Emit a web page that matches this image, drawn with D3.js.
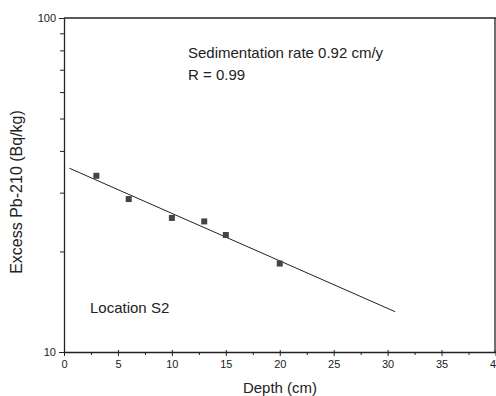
<!DOCTYPE html>
<html><head><meta charset="utf-8">
<script src="https://cdn.jsdelivr.net/npm/d3@7"></script>
<style>body{margin:0;background:#fff;}svg{display:block;font-family:"Liberation Sans",Arial,sans-serif;}</style>
</head><body>
<script>
const depth = [3, 6, 10, 13, 15, 20];
const excessPb = [33.7, 28.7, 25.2, 24.6, 22.4, 18.4];
const fitDepth = [0.5, 30.7];
const fitPb = [35.5, 13.2];
const xMajorTicks = [0, 5, 10, 15, 20, 25, 30, 35, 40];
const xMinorTicks = [2.5, 7.5, 12.5, 17.5, 22.5, 27.5, 32.5, 37.5];
const yMajorTicks = [10, 100];
const yMinorTicks = [20, 30, 40, 50, 60, 70, 80, 90];

const W = 496, H = 396;
const m = {l: 64, t: 18, r: 1, b: 44};
const svg = d3.select("body").append("svg").attr("width", W).attr("height", H);
const x = d3.scaleLinear().domain([0, 40]).range([m.l, 495.5]);
const y = d3.scaleLog().domain([10, 100]).range([352, m.t]);
const ink = "#222";

// frame
svg.append("line").attr("x1", m.l).attr("x2", 496).attr("y1", y(100)).attr("y2", y(100)).attr("stroke", ink).attr("stroke-width", 1.3);
svg.append("line").attr("x1", 495).attr("x2", 495).attr("y1", y(100)).attr("y2", y(10)).attr("stroke", ink).attr("stroke-width", 1.3);

const xa = svg.append("g").attr("transform", `translate(0,${y(10)})`)
  .call(d3.axisBottom(x).tickValues(xMajorTicks).tickSize(4).tickSizeOuter(0).tickPadding(4).tickFormat(d3.format("d")));
svg.append("g").attr("transform", `translate(0,${y(10)})`)
  .call(d3.axisBottom(x).tickValues(xMinorTicks).tickSize(3).tickSizeOuter(0).tickFormat(""))
  .select(".domain").remove();
const ya = svg.append("g").attr("transform", `translate(${m.l},0)`)
  .call(d3.axisLeft(y).tickValues(yMajorTicks).tickSize(5).tickSizeOuter(0).tickPadding(3).tickFormat(d3.format("d")));
svg.append("g").attr("transform", `translate(${m.l},0)`)
  .call(d3.axisLeft(y).tickValues(yMinorTicks).tickSize(4).tickSizeOuter(0).tickFormat(""))
  .select(".domain").remove();
svg.selectAll(".domain").attr("stroke", ink).attr("stroke-width", 1.3);
svg.selectAll(".tick line").attr("stroke", ink);
svg.selectAll(".tick text").attr("font-family", "Liberation Sans, Arial, sans-serif").attr("font-size", 11).attr("fill", ink);
xa.selectAll(".tick line").attr("y1", -2);

// fit line
svg.append("line")
  .attr("x1", x(fitDepth[0])).attr("y1", y(fitPb[0]))
  .attr("x2", x(fitDepth[1])).attr("y2", y(fitPb[1]))
  .attr("stroke", ink).attr("stroke-width", 1);

// points
svg.selectAll("rect.pt").data(depth).join("rect").attr("class", "pt")
  .attr("x", (d) => x(d) - 3).attr("y", (d, i) => y(excessPb[i]) - 3)
  .attr("width", 6).attr("height", 6).attr("fill", "#444");

// text
svg.append("text").attr("x", 188).attr("y", 58).attr("font-size", 15).attr("fill", ink).text("Sedimentation rate 0.92 cm/y");
svg.append("text").attr("x", 188).attr("y", 80).attr("font-size", 15).attr("fill", ink).text("R = 0.99");
svg.append("text").attr("x", 90).attr("y", 313).attr("font-size", 15).attr("fill", ink).text("Location S2");
svg.append("text").attr("x", 280).attr("y", 393).attr("text-anchor", "middle").attr("font-size", 15).attr("fill", ink).text("Depth (cm)");
svg.append("text").attr("transform", `translate(22,192) rotate(-90)`).attr("text-anchor", "middle").attr("font-size", 16).attr("fill", ink).text("Excess Pb-210 (Bq/kg)");
</script>
</body></html>
